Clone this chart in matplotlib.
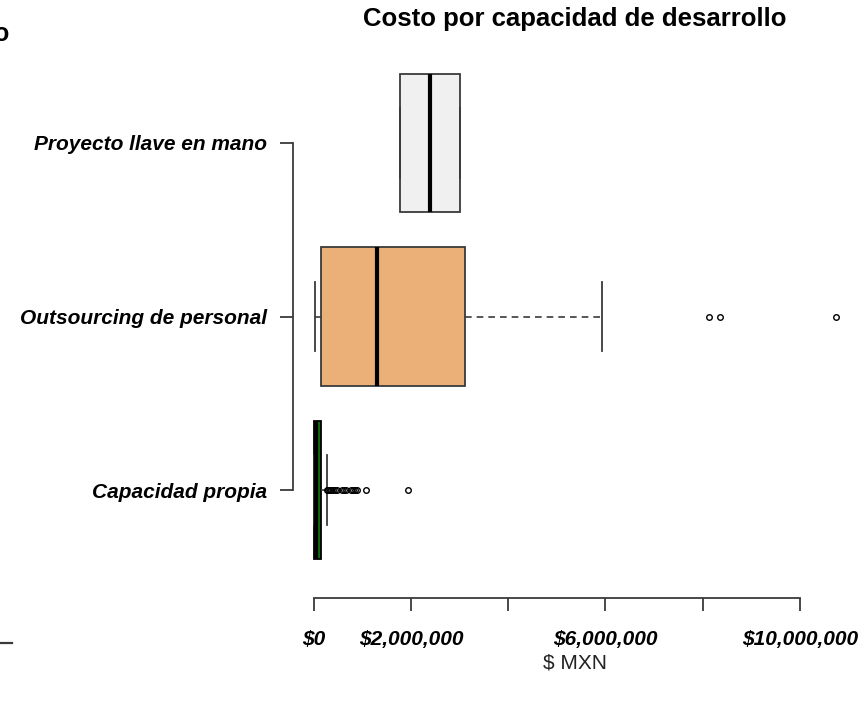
import matplotlib
matplotlib.use("Agg")
import matplotlib.pyplot as plt
from matplotlib.lines import Line2D

plt.rcParams['font.family'] = ['Liberation Sans', 'DejaVu Sans']

# Categories, bottom to top
categories = ["Capacidad propia", "Outsourcing de personal", "Proyecto llave en mano"]
fill_colors = ["#0E6B0E", "#EBB077", "#F0F0F0"]

# Five-number summaries in pesos (whislo, q1, med, q3, whishi)
whislo = [0, 20_000, 1_770_000]
q1 = [5_000, 150_000, 1_770_000]
med = [40_000, 1_300_000, 2_390_000]
q3 = [140_000, 3_120_000, 3_000_000]
whishi = [260_000, 5_940_000, 3_000_000]

# Outlying observations
outliers_propia = [280_000, 300_000, 330_000, 360_000, 400_000, 430_000, 480_000,
                   580_000, 620_000, 660_000, 760_000, 800_000, 840_000, 880_000,
                   1_070_000, 1_930_000]
outliers_outsourcing = [8_130_000, 8_350_000, 10_750_000]
outliers_llave = []
fliers = [outliers_propia, outliers_outsourcing, outliers_llave]

tick_values = [0, 2_000_000, 4_000_000, 6_000_000, 8_000_000, 10_000_000]
tick_labels = ["$0", "$2,000,000", "", "$6,000,000", "", "$10,000,000"]

title = "Costo por capacidad de desarrollo"
xlabel = "$ MXN"

W, H = 867, 701
fig = plt.figure(figsize=(W / 100, H / 100), dpi=100)
ax = fig.add_axes([293 / W, 1 - 597.6 / H, (857 - 293) / W, (597.6 - 35.4) / H])

stats = []
for i in range(3):
    stats.append(dict(whislo=whislo[i], q1=q1[i], med=med[i], q3=q3[i],
                      whishi=whishi[i], fliers=fliers[i], label=categories[i]))

positions = [1, 2, 3]
bp = ax.bxp(stats, positions=positions, widths=0.8, capwidths=0.4,
            orientation='horizontal', patch_artist=True, manage_ticks=False,
            boxprops=dict(edgecolor="#3a3a3a", linewidth=1.3),
            whiskerprops=dict(color="#3a3a3a", linewidth=1.2, linestyle=(0, (4, 3))),
            capprops=dict(color="#3a3a3a", linewidth=1.3),
            medianprops=dict(color="black", linewidth=3, solid_capstyle='butt'),
            flierprops=dict(marker='o', markersize=4, markerfacecolor='none',
                            markeredgecolor='black', markeredgewidth=1.0))
for patch, c in zip(bp['boxes'], fill_colors):
    patch.set_facecolor(c)
bp['boxes'][0].set_edgecolor('black')

ax.set_xlim(-0.43e6, 11.18e6)
ax.set_ylim(0.38, 3.62)

for s in ['top', 'right']:
    ax.spines[s].set_visible(False)
ax.spines['left'].set_bounds(1, 3)
ax.spines['bottom'].set_bounds(0, 10_000_000)
for s in ['left', 'bottom']:
    ax.spines[s].set_color("#3a3a3a")
    ax.spines[s].set_linewidth(1.3)

ax.set_yticks(positions)
ax.set_yticklabels(categories, fontsize=15, fontweight='bold', fontstyle='italic')
ax.set_xticks(tick_values)
ax.set_xticklabels(tick_labels, fontsize=15, fontweight='bold', fontstyle='italic')
ax.tick_params(axis='both', direction='out', length=9.5, width=1.3, color="#3a3a3a")
ax.tick_params(axis='y', pad=9)
ax.tick_params(axis='x', pad=13.5)

fig.text(575 / W, 1 - 19 / H, title, ha='center', va='center',
         fontsize=18.5, fontweight='bold')
fig.text(575 / W, 1 - 663 / H, xlabel, ha='center', va='center', fontsize=15,
         color="#222222")

# Neighbouring panel edges
fig.text(2 / W, 1 - 34 / H, "o", ha='center', va='center', fontsize=18, fontweight='bold')
fig.add_artist(Line2D([0, 12 / W], [1 - 643 / H, 1 - 643 / H], color="#3a3a3a",
                      linewidth=1.6, transform=fig.transFigure))

fig.savefig("out.png", dpi=100)
